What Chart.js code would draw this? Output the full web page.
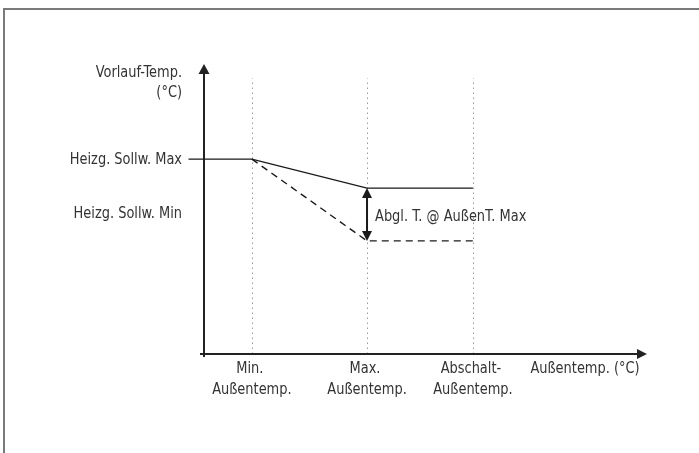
<!DOCTYPE html>
<html>
<head>
<meta charset="utf-8">
<script src="https://cdn.jsdelivr.net/npm/chart.js@4.4.1/dist/chart.umd.min.js"></script>
<style>
  body { margin: 0; background: #fff; width: 699px; height: 453px; overflow: hidden; position: relative; }
  #rahmen { position: absolute; left: 3px; top: 8px; width: 720px; height: 470px; border-top: 2px solid #7a7a7a; border-left: 2px solid #7a7a7a; }
  #diagramm { position: absolute; left: 0; top: 0; }
</style>
</head>
<body>
<div id="rahmen"></div>
<canvas id="diagramm" width="699" height="453"></canvas>
<script>
// Kennlinie (x = Außentemperatur, y = Vorlauftemperatur, willkürliche Einheiten 0..10)
const aussenX = [-0.35, 1.08, 3.68, 6.07];
const vorlaufMax = [6.72, 6.72, 5.72, 5.72];
const aussenXMin = [1.08, 3.68, 6.07];
const vorlaufMin = [6.72, 3.9, 3.9];

// Markierungen auf den Achsen
const xMarken = [1.08, 3.68, 6.07];
const xMarkenText = [['Min.', 'Außentemp.'], ['Max.', 'Außentemp.'], ['Abschalt-', 'Außentemp.']];
const yMarken = [6.72, 4.86];
const yMarkenText = ['Heizg. Sollw. Max', 'Heizg. Sollw. Min'];
const yTitel = ['Vorlauf-Temp.', '(°C)'];
const xTitel = 'Außentemp. (°C)';
const abglText = 'Abgl. T. @ AußenT. Max';
const rasterOben = 9.5;

const SCHRIFT = '"DejaVu Sans Condensed", "Liberation Sans Narrow", sans-serif';
const TEXTFARBE = '#333';
const SCHMAL = 0.9; // Schrift horizontal stauchen

function punkte(xs, ys) {
    return xs.map(function (x, i) { return { x: x, y: ys[i] }; });
}

function text(ctx, str, x, y, align) {
    ctx.save();
    ctx.translate(x, y);
    ctx.scale(SCHMAL, 1);
    ctx.textAlign = align;
    ctx.fillText(str, 0, 0);
    ctx.restore();
}

function pfeil(ctx, spitzeX, spitzeY, richtung, laenge, breite) {
    // richtung: 'hoch', 'runter', 'rechts'
    ctx.beginPath();
    ctx.moveTo(spitzeX, spitzeY);
    if (richtung == 'hoch') {
        ctx.lineTo(spitzeX - breite, spitzeY + laenge);
        ctx.lineTo(spitzeX + breite, spitzeY + laenge);
    } else if (richtung == 'runter') {
        ctx.lineTo(spitzeX - breite, spitzeY - laenge);
        ctx.lineTo(spitzeX + breite, spitzeY - laenge);
    } else {
        ctx.lineTo(spitzeX - laenge, spitzeY - breite);
        ctx.lineTo(spitzeX - laenge, spitzeY + breite);
    }
    ctx.closePath();
    ctx.fill();
}

const achsenPlugin = {
    id: 'achsen',
    beforeDatasetsDraw: function (chart) {
        const ctx = chart.ctx;
        const sx = chart.scales.x;
        const sy = chart.scales.y;
        const y0 = sy.getPixelForValue(0);
        const x0 = sx.getPixelForValue(0);

        ctx.save();
        // gepunktete Hilfslinien
        ctx.strokeStyle = '#9a9a9a';
        ctx.lineWidth = 1;
        ctx.setLineDash([1.5, 3.5]);
        xMarken.forEach(function (v) {
            const px = Math.round(sx.getPixelForValue(v)) + 0.5;
            ctx.beginPath();
            ctx.moveTo(px, y0);
            ctx.lineTo(px, sy.getPixelForValue(rasterOben));
            ctx.stroke();
        });
        ctx.setLineDash([]);

        // Achsen
        ctx.strokeStyle = '#222';
        ctx.fillStyle = '#222';
        ctx.lineWidth = 2;
        ctx.beginPath();
        ctx.moveTo(x0 - 4, y0);
        ctx.lineTo(sx.getPixelForValue(10) - 8, y0);
        ctx.moveTo(x0, y0 + 3);
        ctx.lineTo(x0, sy.getPixelForValue(10) + 8);
        ctx.stroke();
        pfeil(ctx, x0, sy.getPixelForValue(10), 'hoch', 10, 5.5);
        pfeil(ctx, sx.getPixelForValue(10), y0, 'rechts', 10, 5);
        ctx.restore();
    },
    afterDatasetsDraw: function (chart) {
        const ctx = chart.ctx;
        const sx = chart.scales.x;
        const sy = chart.scales.y;
        const y0 = sy.getPixelForValue(0);
        const x0 = sx.getPixelForValue(0);

        ctx.save();
        // Doppelpfeil
        ctx.fillStyle = '#1a1a1a';
        const pxAbgl = sx.getPixelForValue(aussenX[2]);
        pfeil(ctx, pxAbgl, sy.getPixelForValue(vorlaufMax[2]), 'hoch', 10, 5);
        pfeil(ctx, pxAbgl, sy.getPixelForValue(vorlaufMin[1]), 'runter', 10, 5);

        // Beschriftungen
        ctx.fillStyle = TEXTFARBE;
        ctx.font = '16px ' + SCHRIFT;
        ctx.textBaseline = 'middle';

        text(ctx, yTitel[0], x0 - 22, 73, 'right');
        text(ctx, yTitel[1], x0 - 22, 93, 'right');
        yMarken.forEach(function (v, i) {
            text(ctx, yMarkenText[i], x0 - 22, sy.getPixelForValue(v) + 1, 'right');
        });

        xMarken.forEach(function (v, i) {
            const px = sx.getPixelForValue(v);
            text(ctx, xMarkenText[i][0], px - 2, y0 + 15, 'center');
            text(ctx, xMarkenText[i][1], px, y0 + 36, 'center');
        });
        text(ctx, xTitel, sx.getPixelForValue(8.6), y0 + 15, 'center');

        text(ctx, abglText, pxAbgl + 8, (sy.getPixelForValue(vorlaufMax[2]) + sy.getPixelForValue(vorlaufMin[1])) / 2 + 2, 'left');
        ctx.restore();
    }
};

const ctx = document.getElementById('diagramm').getContext('2d');
const chart = new Chart(ctx, {
    type: 'scatter',
    data: {
        datasets: [
            {
                label: 'Heizg. Sollw. Max',
                data: punkte(aussenX, vorlaufMax),
                showLine: true,
                borderColor: '#1a1a1a',
                borderWidth: 1.4,
                pointRadius: 0,
                clip: false
            },
            {
                label: 'Heizg. Sollw. Min',
                data: punkte(aussenXMin, vorlaufMin),
                showLine: true,
                borderColor: '#1a1a1a',
                borderWidth: 1.4,
                borderDash: [7, 5],
                pointRadius: 0,
                clip: false
            },
            {
                label: 'Abgleich',
                data: punkte([aussenX[2], aussenX[2]], [vorlaufMax[2] - 0.2, vorlaufMin[1] + 0.2]),
                showLine: true,
                borderColor: '#1a1a1a',
                borderWidth: 2,
                pointRadius: 0,
                clip: false
            }
        ]
    },
    options: {
        responsive: false,
        animation: false,
        layout: { padding: { left: 204, right: 52, top: 64, bottom: 99 } },
        plugins: { legend: { display: false }, tooltip: { enabled: false } },
        scales: {
            x: { type: 'linear', min: 0, max: 10, display: false },
            y: { type: 'linear', min: 0, max: 10, display: false }
        }
    },
    plugins: [achsenPlugin]
});
</script>
</body>
</html>
